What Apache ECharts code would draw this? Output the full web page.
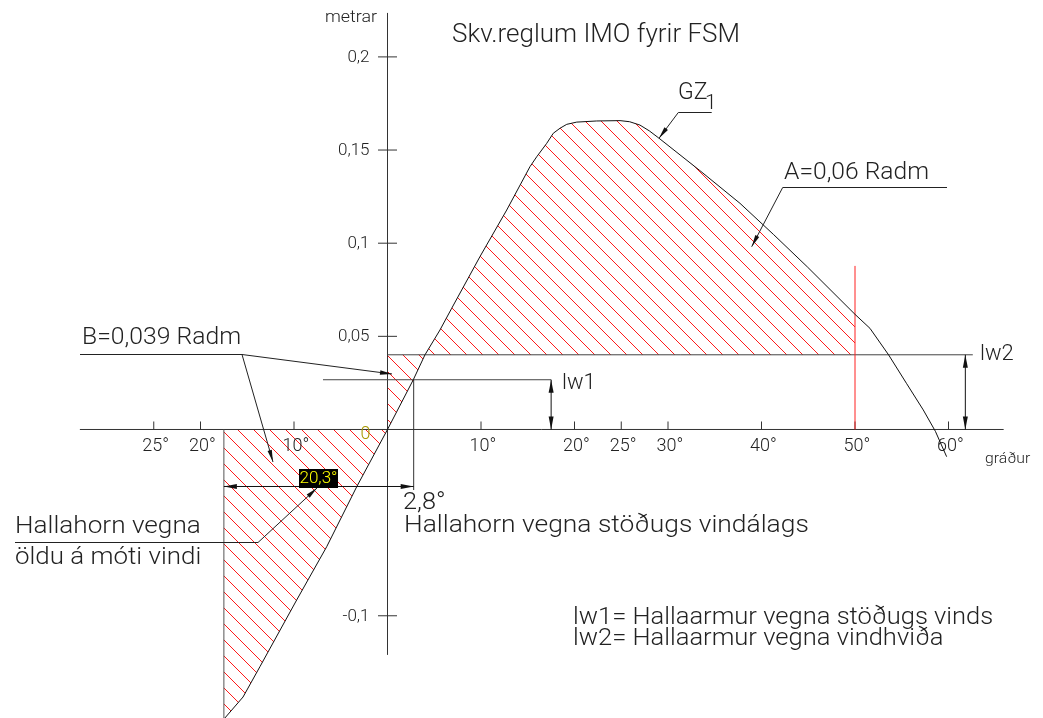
<!DOCTYPE html>
<html><head><meta charset="utf-8">
<script src="https://cdn.jsdelivr.net/npm/echarts@6/dist/echarts.min.js"></script>
<style>html,body{margin:0;padding:0;background:#fff;}#c{width:1043px;height:718px;}</style>
</head><body><div id="c"></div>
<script>
// ---------- data ----------
const gzAngles = [-17.5,-15.45,-13.64,-9.71,-6.5,-3.29,0,2.76,4.01,5.61,6.87,9.89,12.75,15.24,15.96,17.03,17.73,18.45,19.17,20.24,22.37,24.87,25.9,27.0,28.0,29.0,33.4,37.7,41.3,44.9,50.0,51.6,53.6,55.5,57.3,58.6,59.8];
const gzValues = [-0.1555,-0.1436,-0.1273,-0.0915,-0.0629,-0.0307,0,0.0267,0.0401,0.0534,0.0651,0.0928,0.1178,0.1411,0.1464,0.1536,0.1590,0.1617,0.1638,0.1650,0.1656,0.1658,0.1652,0.1634,0.1603,0.1565,0.1390,0.1214,0.1046,0.0873,0.0618,0.0543,0.0400,0.0248,0.0105,-0.0010,-0.0146];
const xTickValues = [-25,-20,-10,10,20,25,30,40,50,60];
const yTickValues = [-0.1,0.05,0.1,0.15,0.2];
const lw1 = 0.0267;          // heeling arm, steady wind
const lw2 = 0.0401;          // heeling arm, gust
const steadyAngle = 2.8;     // heel angle from steady wind
const rollAngle = 20.3;      // roll to windward
const limitAngle = 50;       // upper limit of area A

// ---------- helpers ----------
const FONT = 'Roboto, "Liberation Sans", sans-serif';
const INK = '#222';
function gzAt(a){
  for (let i=0;i<gzAngles.length-1;i++){
    if (a>=gzAngles[i] && a<=gzAngles[i+1]){
      const t=(a-gzAngles[i])/(gzAngles[i+1]-gzAngles[i]);
      return gzValues[i]+t*(gzValues[i+1]-gzValues[i]);
    }
  }
  return gzValues[gzValues.length-1];
}
function crossAngle(level){
  for (let i=0;i<gzAngles.length-1;i++){
    if (gzValues[i]<=level && gzValues[i+1]>=level){
      const t=(level-gzValues[i])/(gzValues[i+1]-gzValues[i]);
      return gzAngles[i]+t*(gzAngles[i+1]-gzAngles[i]);
    }
  }
  return 0;
}
const rollBack = steadyAngle - rollAngle;
const xi = crossAngle(lw2);
const curvePts = gzAngles.map((a,i)=>[a,gzValues[i]]);

const polyA = [[xi,lw2]].concat(curvePts.filter(p=>p[0]>xi && p[0]<limitAngle), [[limitAngle,gzAt(limitAngle)],[limitAngle,lw2]]);
const polyB1 = [[rollBack,0],[0,0]].concat(curvePts.filter(p=>p[0]<0 && p[0]>rollBack).reverse(), [[rollBack,gzAt(rollBack)]]);
const polyB2 = [[0,0]].concat(curvePts.filter(p=>p[0]>0 && p[0]<xi), [[xi,lw2],[0,lw2]]);

function makeHatch(s,color){
  const c=document.createElement('canvas'); c.width=s; c.height=s;
  const g=c.getContext('2d'); g.strokeStyle=color; g.lineWidth=1; g.beginPath();
  for (const k of [-s,0,s]){ g.moveTo(0,k); g.lineTo(s,s+k); }
  g.stroke(); return c;
}
const hatch = {image: makeHatch(16,'#ff1a1a'), repeat:'repeat'};

function arrowHead(tip, from, L, w){
  L=L||13; w=w||2.5;
  const dx=tip[0]-from[0], dy=tip[1]-from[1], d=Math.hypot(dx,dy);
  const ux=dx/d, uy=dy/d, bx=tip[0]-ux*L, by=tip[1]-uy*L;
  return {type:'polygon', shape:{points:[tip,[bx-uy*w,by+ux*w],[bx+uy*w,by-ux*w]]}, style:{fill:'#111'}};
}
function seg(a,b,stroke,w){
  return {type:'line', shape:{x1:a[0],y1:a[1],x2:b[0],y2:b[1]}, style:{stroke:stroke||'#333',lineWidth:w||1}};
}

function renderHatch(params, api){
  const toPx = pts => pts.map(p=>api.coord(p));
  return {type:'group', children:[polyA,polyB1,polyB2].map(pl=>({
    type:'polygon', shape:{points:toPx(pl)}, style:{fill:hatch, stroke:null}
  }))};
}

function renderAnnot(params, api){
  const P = (x,y)=>api.coord([x,y]);
  const ch = [];
  // axes
  ch.push(seg(P(-32.9,0),P(65.9,0),'#333'));
  ch.push(seg(P(0,-0.121),P(0,0.2236),'#333'));
  yTickValues.forEach(v=>{
    const p=P(0,v);
    ch.push(seg([p[0]-9.5,p[1]],[p[0]+9.5,p[1]],'#333'));
    ch.push({type:'text', x:p[0]-18, y:p[1]+0.5, style:{text:String(v).replace('.',','), font:'300 17px '+FONT, fill:INK, align:'right', verticalAlign:'middle'}});
  });
  xTickValues.forEach(v=>{
    const p=P(v,0);
    ch.push(seg([p[0],p[1]-8],[p[0],p[1]],'#333'));
    ch.push({type:'text', x:p[0]+2, y:p[1]+17.5, style:{text:Math.abs(v)+'°', font:'300 18px '+FONT, fill:INK, align:'center', verticalAlign:'middle'}});
  });
  // heeling arm lines
  ch.push(seg(P(0,lw2),P(62.6,lw2),'#444'));
  ch.push(seg(P(-6.9,lw1),P(17.5,lw1),'#444'));
  let a=P(17.5,0), b=P(17.5,lw1);
  ch.push(seg(a,b,'#111')); ch.push(arrowHead(a,b)); ch.push(arrowHead(b,a));
  a=P(61.8,0); b=P(61.8,lw2);
  ch.push(seg(a,b,'#111')); ch.push(arrowHead(a,b)); ch.push(arrowHead(b,a));
  // limit line 50°
  ch.push(seg(P(limitAngle,0),P(limitAngle,0.0878),'#ff2020'));
  // steady heel angle line and roll back boundary
  ch.push(seg(P(steadyAngle,lw1),P(steadyAngle,-0.0325),'#333'));
  ch.push(seg(P(rollBack,0),P(rollBack,-0.16),'#555'));
  // 20.3° dimension
  a=P(rollBack,-0.0306); b=P(steadyAngle,-0.0306);
  ch.push(seg(a,b,'#111')); ch.push(arrowHead(a,b)); ch.push(arrowHead(b,a));
  return {type:'group', children:ch};
}

// ---------- leaders & texts ----------
const gfx = [];
function pl(points){ gfx.push({type:'polyline', shape:{points}, style:{stroke:'#222', fill:null, lineWidth:1}, z:50}); }
function ah(tip,from){ const h=arrowHead(tip,from,12,2.2); h.z=50; gfx.push(h); }
pl([[80,354.5],[242,354.5],[392,374]]); ah([392,374],[242,354.5]);
pl([[242,354.5],[273,462]]); ah([273,462],[242,354.5]);
pl([[15,542.5],[258,542.5],[317,488]]); ah([317,488],[258,542.5]);
pl([[947,187.5],[782.7,187.5],[751.7,246.7]]); ah([751.7,246.7],[782.7,187.5]);
pl([[711.7,112.5],[678.3,112.5],[659,138.3]]); ah([659,138.3],[678.3,112.5]);

function txt(text,x,y,size,opt){
  opt=opt||{};
  gfx.push({type:'text', x, y, z:60, scaleX:opt.sx||1, style:{text, fill:opt.fill||INK, font:(opt.weight||300)+' '+size+'px '+FONT, align:opt.align||'left', verticalAlign:'middle'}});
}
txt('metrar',325,18,17,{sx:1.05});
txt('Skv.reglum IMO fyrir FSM',452,35.5,26);
txt('GZ',678,93.5,23);
txt('1',705,104,21);
txt('A=0,06 Radm',784,173.5,23,{sx:1.07});
txt('B=0,039 Radm',82,337.5,24,{sx:1.03});
txt('lw1',562,383,22);
txt('lw2',980,354,22);
txt('2,8°',403,503,23,{sx:1.1});
txt('Hallahorn vegna stöðugs vindálags',404,526,24,{sx:1.10});
txt('Hallahorn vegna',15,527,24,{sx:1.09});
txt('öldu á móti vindi',15,558,24,{sx:1.08});
txt('lw1= Hallaarmur vegna stöðugs vinds',573,618,23,{sx:1.11});
txt('lw2= Hallaarmur vegna vindhviða',573,639.5,23,{sx:1.11});
txt('gráður',985,459,15,{sx:1.05});
txt('0',365.5,434,18,{fill:'#a89800',align:'center',weight:300});
gfx.push({type:'rect', shape:{x:299,y:469,width:39,height:19}, style:{fill:'#000'}, z:55});
txt('20,3°',318.5,478.5,17,{fill:'#ffff00',align:'center'});

const chart = echarts.init(document.getElementById('c'), null, {renderer:'canvas'});
chart.setOption({
  animation:false,
  backgroundColor:'#fff',
  grid:{left:13.5, width:1028.5, top:19.64, height:698.6, containLabel:false, outerBoundsMode:'none'},
  xAxis:{type:'value', min:-40, max:70, axisLine:{show:false}, axisTick:{show:false}, axisLabel:{show:false}, splitLine:{show:false}},
  yAxis:{type:'value', min:-0.155, max:0.22, axisLine:{show:false}, axisTick:{show:false}, axisLabel:{show:false}, splitLine:{show:false}},
  series:[
    {type:'custom', name:'hatch', coordinateSystem:'cartesian2d', data:[[0,0]], renderItem:renderHatch, clip:false, z:1, silent:true},
    {type:'custom', name:'annot', coordinateSystem:'cartesian2d', data:[[0,0]], renderItem:renderAnnot, clip:false, z:3, silent:true},
    {type:'line', name:'GZ1', data:curvePts, symbol:'none', smooth:false, lineStyle:{color:'#111', width:1}, z:4, silent:true}
  ],
  graphic:gfx
});
</script></body></html>
